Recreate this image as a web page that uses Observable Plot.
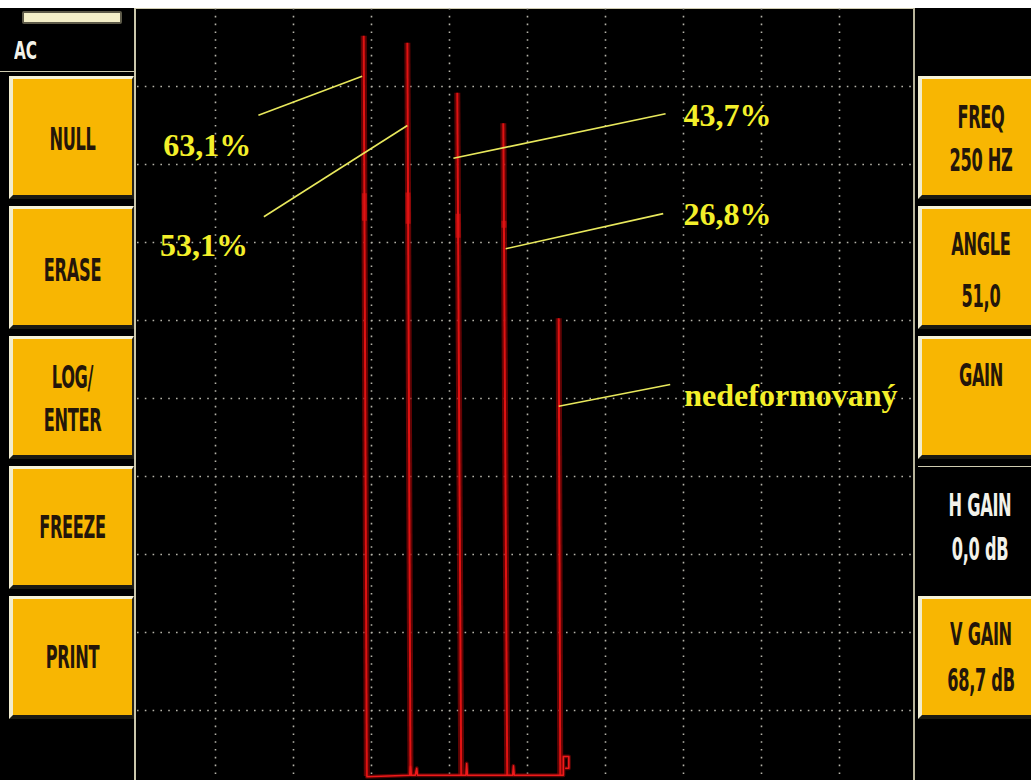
<!DOCTYPE html>
<html>
<head>
<meta charset="utf-8">
<script src="https://cdn.jsdelivr.net/npm/d3@7"></script>
<script src="https://cdn.jsdelivr.net/npm/@observablehq/plot@0.6"></script>
<style>
  html, body { margin: 0; padding: 0; background: #fff; overflow: hidden; }
  #screen { position: relative; width: 1031px; height: 780px; overflow: hidden; background: #fff; }
  #black { position: absolute; left: 0; top: 8px; width: 1031px; height: 772px; background: #000; border-top: 1px solid #cfcbb0; box-sizing: border-box; }
  #plot { position: absolute; left: 137px; top: 8px; }
  .panel { position: absolute; top: 8px; height: 772px; background: #000; }
  #left { left: 0; width: 136px; border-right: 2px solid #cbc7ab; box-sizing: border-box; }
  #right { left: 913px; width: 118px; border-left: 2px solid #b9b59c; box-sizing: border-box; }
  .rule { position: absolute; left: 0; right: 0; top: 63px; height: 1px; background: #cfcbb0; }
  .btn { position: absolute; height: 123px; box-sizing: border-box;
         background: #f8b602; border-top: 3px solid #f6f2d6; border-left: 4px solid #f1edd0;
         border-bottom: 4px solid #1b1a12; border-right: 2px solid #24221a; }
  .blank { position: absolute; height: 123px; box-sizing: border-box; border-top: 1px solid #cfcbb0; }
  .lbl { position: absolute; left: 0; right: 0; text-align: center;
         font-family: "DejaVu Sans Condensed", "DejaVu Sans", sans-serif; font-stretch: condensed;
         font-weight: bold; font-size: 18px; line-height: 18px; color: #24160a;
         transform: scaleY(1.75); letter-spacing: -0.3px; }
  .white { color: #f2f2ea; }
  #battery { position: absolute; left: 22px; top: 3px; width: 100px; height: 13px; box-sizing: border-box;
             background: #f4efc8; border: 2px solid #5d5a48; border-radius: 2px; }
  #ac { position: absolute; left: 14px; top: 30px; font-family: "DejaVu Sans Condensed", "DejaVu Sans", sans-serif;
        font-weight: bold; font-size: 17px; line-height: 17px; color: #f2f2ea; transform: scaleY(1.5); transform-origin: left top; }
</style>
</head>
<body>
<div id="screen">
  <div id="black"></div>
  <div id="plot"></div>
  <div id="left" class="panel"><div id="battery"></div><div id="ac">AC</div><div class="rule"></div></div>
  <div id="right" class="panel"></div>
</div>
<script>
// Screen graticule: 10 x 10 divisions, positions given in % of full screen
const gridX = [10, 20, 30, 40, 50, 60, 70, 80, 90];
const gridY = [10, 20, 30, 40, 50, 60, 70, 80, 90];

// Echo peaks: top of each spike and where it meets the base line
const peakTopX  = [29.0, 34.6, 41.0, 46.9, 54.0];
const peakTopY  = [96.5, 95.6, 89.2, 85.3, 60.3];
const peakFootX = [29.4, 35.0, 41.5, 47.4, 54.2];
const footY = 1.6;
// brighter stretches along each spike (upper / lower end, % of screen height)
const hotTop = [76.3, 76.4, 73.7, 72.8];
const hotBottom = [72.8, 72.4, 70.6, 71.9];

// Base line of the trace with its small ripples
const baseX = [29.4, 34.9, 35.0, 35.1, 35.6, 35.8, 35.9, 42.1, 42.2, 42.3, 48.1, 48.2, 48.3, 54.6, 54.6, 55.3, 55.3, 54.9];
const baseY = [1.5, 1.7, 2.8, 1.7, 1.7, 2.6, 1.7, 1.7, 3.2, 1.7, 1.7, 2.9, 1.7, 1.7, 4.1, 4.1, 2.6, 2.6];

// Annotation labels and their leader lines
const labelText = ["63,1%", "53,1%", "43,7%", "26,8%", "nedeformovaný"];
const labelX = [3.3, 2.9, 70.0, 70.0, 70.1];
const labelY = [82.4, 69.6, 86.3, 73.5, 50.3];
const leaderX1 = [15.5, 16.2, 40.5, 47.2, 54.0];
const leaderY1 = [86.3, 73.3, 80.8, 69.2, 49.0];
const leaderX2 = [28.8, 34.6, 67.7, 67.4, 68.3];
const leaderY2 = [91.3, 85.0, 86.5, 73.7, 51.8];

// Soft-key labels on both sides of the screen
const leftKeys = [["NULL"], ["ERASE"], ["LOG/", "ENTER"], ["FREEZE"], ["PRINT"]];
const rightKeys = [["FREQ", "250 HZ"], ["ANGLE", "51,0"], ["GAIN"], ["H GAIN", "0,0 dB"], ["V GAIN", "68,7 dB"]];
const rightKeyLit = [true, true, true, false, true];

const peaks = peakTopX.map((x, i) => ({xTop: x, yTop: peakTopY[i], xFoot: peakFootX[i], yFoot: footY}));
const along = (p, y) => p.xTop + (p.xFoot - p.xTop) * (p.yTop - y) / (p.yTop - p.yFoot);
const hot = hotTop.map((t, i) => ({x1: along(peaks[i], t), y1: t, x2: along(peaks[i], hotBottom[i]), y2: hotBottom[i]}));
const base = baseX.map((x, i) => ({x, y: baseY[i]}));
const labels = labelText.map((t, i) => ({text: t, x: labelX[i], y: labelY[i]}));
const leaders = leaderX1.map((x, i) => ({x1: x, y1: leaderY1[i], x2: leaderX2[i], y2: leaderY2[i]}));

const dots = {stroke: "#b4b2a8", strokeWidth: 1.6, strokeDasharray: "1.6 6.2"};

const chart = Plot.plot({
  width: 780,
  height: 780,
  margin: 0,
  style: {background: "transparent", overflow: "visible"},
  x: {domain: [0, 100], axis: null},
  y: {domain: [0, 100], axis: null},
  marks: [
    Plot.ruleX(gridX, dots),
    Plot.ruleY(gridY, dots),
    // glow around the trace
    Plot.link(peaks, {x1: "xTop", y1: "yTop", x2: "xFoot", y2: "yFoot", stroke: "#8a0606", strokeWidth: 6, strokeOpacity: 0.7}),
    Plot.line(base, {x: "x", y: "y", stroke: "#8a0606", strokeWidth: 4, strokeOpacity: 0.6}),
    Plot.link(hot, {x1: "x1", y1: "y1", x2: "x2", y2: "y2", stroke: "#d01010", strokeWidth: 5, strokeOpacity: 0.7}),
    // trace core
    Plot.link(peaks, {x1: "xTop", y1: "yTop", x2: "xFoot", y2: "yFoot", stroke: "#e01212", strokeWidth: 2}),
    Plot.line(base, {x: "x", y: "y", stroke: "#ee1a1a", strokeWidth: 1.6}),
    // annotations
    Plot.link(leaders, {x1: "x1", y1: "y1", x2: "x2", y2: "y2", stroke: "#e8e85c", strokeWidth: 1.6}),
    Plot.text(labels, {x: "x", y: "y", text: "text", textAnchor: "start",
      fontFamily: "Liberation Serif", fontWeight: "bold", fontSize: 32, fill: "#f3ef2a"})
  ]
});
document.getElementById("plot").append(chart);

// Soft keys: label centre heights measured from the top of each key
const slotTop = [68, 198, 328, 458, 588];
const leftCenters = [[63], [64], [41, 84], [61], [61]];
const rightCenters = [[41, 84], [38, 90], [39], [39, 83], [38, 84]];
function addKeys(panel, keys, centers, left, width, lit) {
  keys.forEach((lines, i) => {
    const b = document.createElement("div");
    b.className = lit[i] ? "btn" : "blank";
    b.style.left = left + "px";
    b.style.width = width + "px";
    b.style.top = slotTop[i] + "px";
    lines.forEach((t, j) => {
      const s = document.createElement("div");
      s.className = "lbl" + (lit[i] ? "" : " white");
      s.textContent = t;
      s.style.top = (centers[i][j] - 9 - (lit[i] ? 3 : 1)) + "px";
      b.append(s);
    });
    panel.append(b);
  });
}
addKeys(document.getElementById("left"), leftKeys, leftCenters, 9, 125, [true, true, true, true, true]);
addKeys(document.getElementById("right"), rightKeys, rightCenters, 3, 124, rightKeyLit);
</script>
</body>
</html>
